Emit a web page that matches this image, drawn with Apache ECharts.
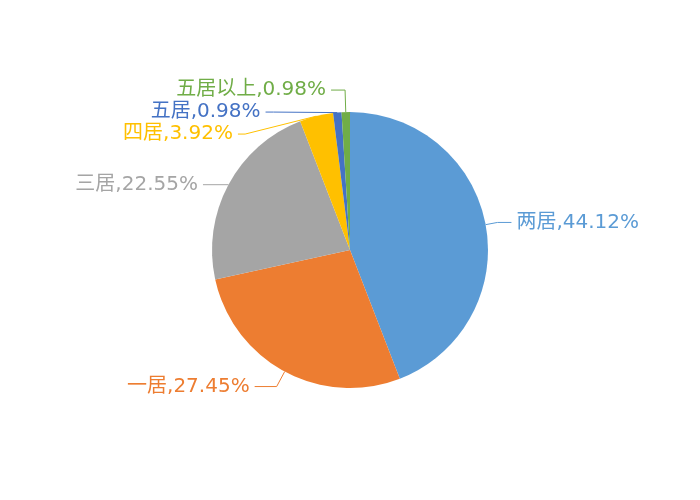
<!DOCTYPE html>
<html><head><meta charset="utf-8">
<script src="https://cdn.jsdelivr.net/npm/echarts@6/dist/echarts.min.js"></script>
<style>html,body{margin:0;padding:0;background:#fff}#c{width:700px;height:500px}</style>
</head><body><div id="c"></div>
<script>
const categories = ['两居', '一居', '三居', '四居', '五居', '五居以上'];
const values = [44.12, 27.45, 22.55, 3.92, 0.98, 0.98];
const colors = ['#5B9BD5', '#ED7D31', '#A5A5A5', '#FFC000', '#4472C4', '#70AD47'];
// leader-line lengths per slice (first segment, second segment)
const lineLen = [[12, 14], [17, 22], [0, 26], [20, 8], [22, 8], [22, 14]];

const chart = echarts.init(document.getElementById('c'));
chart.setOption({
  animation: false,
  series: [{
    type: 'pie',
    center: [350, 250],
    radius: 138,
    startAngle: 90,
    clockwise: true,
    data: categories.map((n, i) => ({
      name: n, value: values[i],
      itemStyle: { color: colors[i] },
      label: { color: colors[i] },
      labelLine: { length: lineLen[i][0], length2: lineLen[i][1], lineStyle: { color: colors[i] } }
    })),
    itemStyle: { borderColor: '#fff', borderWidth: 0 },
    label: {
      show: true,
      formatter: p => p.name + ',' + p.value.toFixed(2) + '%',
      fontSize: 20,
      lineHeight: 20,
      fontFamily: 'DejaVu Sans, Noto Sans CJK SC',
      distanceToLabelLine: 5
    },
    labelLine: { show: true, lineStyle: { width: 1 } }
  }]
});
</script>
</body></html>
